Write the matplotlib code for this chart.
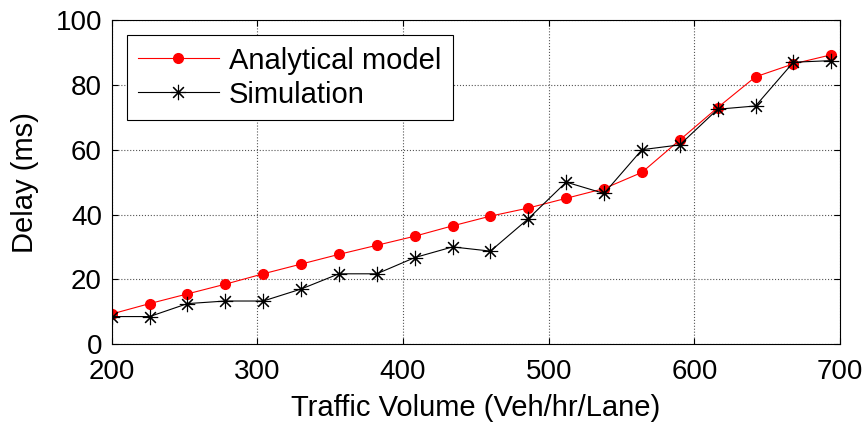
import numpy as np
import matplotlib
matplotlib.use("Agg")
import matplotlib.pyplot as plt

plt.rcParams['font.family'] = ['Liberation Sans', 'DejaVu Sans']

# traffic volume (veh/hr/lane)
volume = [200, 226, 252, 278, 304, 330, 356, 382, 408, 434,
          460, 486, 512, 538, 564, 590, 616, 642, 668, 694]
# delay in ms
analytical = [9.3, 12.5, 15.5, 18.5, 21.7, 24.7, 27.7, 30.5, 33.3, 36.5,
              39.5, 42.0, 45.0, 48.0, 53.0, 63.0, 73.0, 82.5, 86.5, 89.3]
simulation = [8.5, 8.5, 12.5, 13.3, 13.3, 17.0, 21.7, 21.7, 26.7, 30.0,
              28.7, 38.7, 50.0, 46.5, 60.0, 61.5, 72.5, 73.5, 87.0, 87.5]

fig = plt.figure(figsize=(8.66, 4.28), dpi=100)
ax = fig.add_axes([0.129, 0.196, 0.841, 0.757])

ax.plot(volume, analytical, color='red', lw=0.8, marker='o', ms=7,
        markerfacecolor='red', markeredgecolor='red', label='Analytical model')
ax.plot(volume, simulation, color='black', lw=0.8, marker=(8, 2, 0), ms=11,
        markeredgewidth=0.8, label='Simulation')

ax.set_xlim(200, 700)
ax.set_ylim(0, 100)
ax.set_xticks(np.arange(200, 701, 100))
ax.set_yticks(np.arange(0, 101, 20))
ax.grid(True, color='#555555', linestyle=':', linewidth=0.8)
ax.tick_params(direction='in', top=True, right=True, labelsize=20, length=4)
ax.tick_params(axis='x', pad=11)
ax.tick_params(axis='y', pad=7)
for s in ax.spines.values():
    s.set_linewidth(0.8)

ax.set_xlabel('Traffic Volume (Veh/hr/Lane)', fontsize=21, labelpad=6)
ax.set_ylabel('Delay (ms)', fontsize=21, labelpad=12)

leg = ax.legend(loc='upper left', bbox_to_anchor=(0.0206, 0.954), fontsize=21,
                fancybox=False, edgecolor='black', framealpha=1,
                borderaxespad=0, handlelength=2.75, handletextpad=0.35,
                borderpad=0.4, labelspacing=0.2)
leg.get_frame().set_linewidth(0.8)

fig.savefig('out.png', dpi=100)
